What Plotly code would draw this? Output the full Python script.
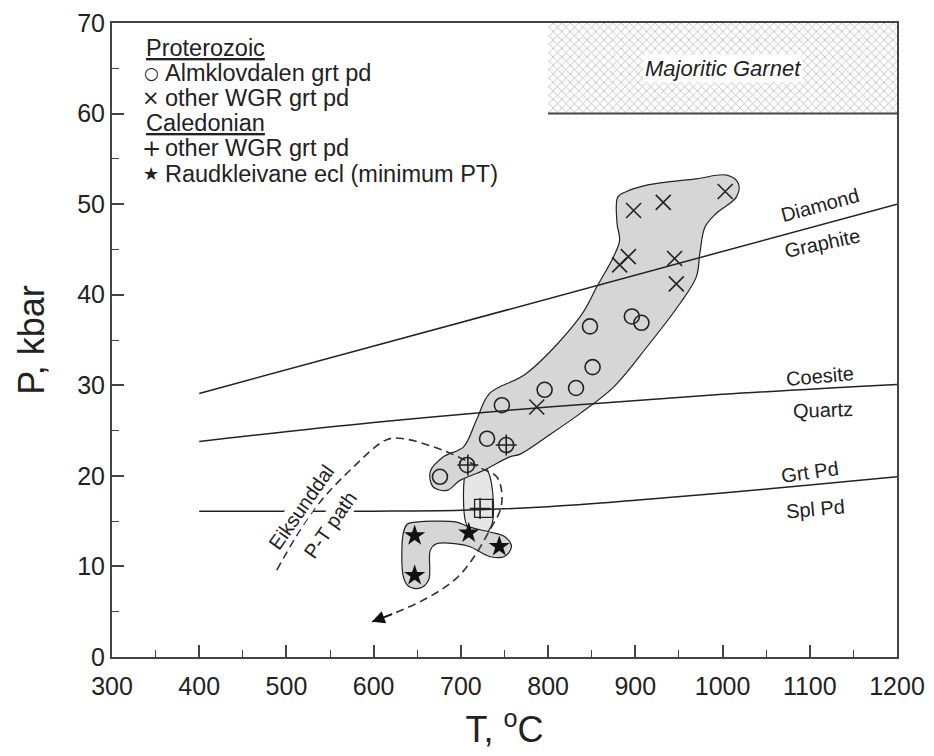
import plotly.graph_objects as go

# ---------------- data (T in deg C, P in kbar) ----------------
alm_T = [848, 896, 907, 851, 832, 796, 747, 730, 752, 676, 707]
alm_P = [36.5, 37.6, 36.9, 32.0, 29.7, 29.5, 27.8, 24.1, 23.4, 19.9, 21.2]

wgr_prot_T = [1003, 932, 898, 892, 882, 945, 947, 787]
wgr_prot_P = [51.4, 50.2, 49.3, 44.2, 43.3, 44.0, 41.2, 27.6]

wgr_cal_T = [708, 722, 752]
wgr_cal_P = [21.2, 16.4, 23.4]

box_T = [726]
box_P = [16.4]

raud_T = [647, 647, 709, 744]
raud_P = [13.4, 9.0, 13.7, 12.2]

# phase boundaries
dia_T = [400, 1200]
dia_P = [29.1, 50.0]
coe_T = [400, 600, 800, 1000, 1200]
coe_P = [23.8, 25.9, 27.6, 29.0, 30.1]
grt_T = [400, 600, 700, 800, 900, 1000, 1100, 1200]
grt_P = [16.1, 16.1, 16.2, 16.6, 17.3, 18.1, 19.0, 19.9]

# majoritic garnet field
maj_T = [800, 1200]
maj_P = [60, 70]

# envelopes
env_main_T = [880, 890, 913, 970, 1005, 1018, 1016, 993, 980, 974, 970, 951, 913, 875, 837, 798,
              768, 756, 726, 699, 684, 668, 665, 680, 703, 718, 733, 775, 837, 856, 875, 882, 879]
env_main_P = [50.8, 51.4, 52.1, 52.8, 53.2, 52.3, 50.8, 49.0, 47.5, 44.6, 42.0, 39.0, 34.2, 29.8,
              26.9, 24.3, 22.4, 22.1, 20.6, 19.5, 18.4, 18.8, 20.5, 22.1, 23.2, 26.2, 29.1, 31.3,
              37.6, 40.9, 44.2, 46.0, 47.9]
env_cal_T = [718, 731, 737, 735, 722, 707, 703, 706]
env_cal_P = [21.8, 20.5, 17.5, 14.5, 13.2, 14.5, 17.5, 20.5]
env_ecl_T = [642, 695, 708, 733, 750, 758, 750, 733, 710, 695, 672, 665, 663, 653, 640, 634, 634, 638]
env_ecl_P = [14.8, 14.9, 14.4, 13.8, 13.3, 12.2, 11.1, 11.1, 12.2, 12.5, 12.5, 11.8, 8.5, 7.6, 7.8,
             8.9, 13.7, 14.6]

# Eiksunddal P-T path
path_T = [489, 531, 577, 615, 634, 680, 722, 741, 747, 745, 733, 714, 695, 665, 623, 598]
path_P = [9.6, 16.2, 21.0, 24.0, 24.1, 22.8, 20.9, 19.9, 18.1, 16.2, 14.0, 10.9, 8.7, 6.7, 4.8, 3.9]

x_ticks = [300, 400, 500, 600, 700, 800, 900, 1000, 1100, 1200]
y_ticks = [0, 10, 20, 30, 40, 50, 60, 70]

legend_rows = [
    ("<u>Proterozoic</u>", ""),
    ("Almklovdalen grt pd", "○"),
    ("other WGR grt pd", "×"),
    ("<u>Caledonian</u>", ""),
    ("other WGR grt pd", "+"),
    ("Raudkleivane ecl (minimum PT)", "★"),
]

FONT = "Liberation Sans, Arial, sans-serif"
INK = "#222222"

# figure / plot-area geometry in pixels (page body has an 8 px margin)
W, H = 926, 748
L, R, T, B = 104, 37, 15, 99
PW, PH = W - L - R, H - T - B


def px_to_paper(px, py):
    # px, py measured in the 934x756 window
    return (px - 8 - L) / PW, (H - B - (py - 8)) / PH


fig = go.Figure()

# majoritic garnet hatched field
fig.add_trace(go.Scatter(
    x=[maj_T[0], maj_T[1], maj_T[1], maj_T[0], maj_T[0]],
    y=[maj_P[0], maj_P[0], maj_P[1], maj_P[1], maj_P[0]],
    mode="lines", fill="toself", line=dict(width=0), fillcolor="white",
    fillpattern=dict(shape="x", size=6, solidity=0.25, fgcolor="#777777", bgcolor="white"),
    showlegend=False, hoverinfo="skip"))
fig.add_trace(go.Scatter(x=maj_T, y=[maj_P[0], maj_P[0]], mode="lines",
                         line=dict(color="#444444", width=2), showlegend=False, hoverinfo="skip"))

# envelopes
fig.add_trace(go.Scatter(x=env_cal_T + env_cal_T[:1], y=env_cal_P + env_cal_P[:1], mode="lines",
                         fill="toself", fillcolor="#e6e6e6", line=dict(color=INK, width=1.2, shape="spline"),
                         showlegend=False, hoverinfo="skip"))
fig.add_trace(go.Scatter(x=env_main_T + env_main_T[:1], y=env_main_P + env_main_P[:1], mode="lines",
                         fill="toself", fillcolor="#d6d6d6", line=dict(color=INK, width=1.2, shape="spline"),
                         showlegend=False, hoverinfo="skip"))
fig.add_trace(go.Scatter(x=env_ecl_T + env_ecl_T[:1], y=env_ecl_P + env_ecl_P[:1], mode="lines",
                         fill="toself", fillcolor="#d6d6d6", line=dict(color=INK, width=1.2, shape="spline"),
                         showlegend=False, hoverinfo="skip"))

# phase boundaries
for tx, py in [(dia_T, dia_P), (coe_T, coe_P), (grt_T, grt_P)]:
    fig.add_trace(go.Scatter(x=tx, y=py, mode="lines", line=dict(color=INK, width=1.5, shape="spline"),
                             showlegend=False, hoverinfo="skip"))

# P-T path
fig.add_trace(go.Scatter(x=path_T, y=path_P, mode="lines",
                         line=dict(color="#333333", width=1.6, dash="8px,5px", shape="spline"),
                         showlegend=False, hoverinfo="skip"))

# data points
fig.add_trace(go.Scatter(x=alm_T, y=alm_P, mode="markers", name="Almklovdalen grt pd",
                         marker=dict(symbol="circle-open", size=15, color=INK, line=dict(width=1.6))))
fig.add_trace(go.Scatter(x=wgr_prot_T, y=wgr_prot_P, mode="markers", name="other WGR grt pd (Proterozoic)",
                         marker=dict(symbol="x-thin-open", size=15, color=INK, line=dict(width=1.6, color=INK))))
fig.add_trace(go.Scatter(x=wgr_cal_T, y=wgr_cal_P, mode="markers", name="other WGR grt pd (Caledonian)",
                         marker=dict(symbol="cross-thin-open", size=15, color=INK, line=dict(width=1.6, color=INK))))
fig.add_trace(go.Scatter(x=raud_T, y=raud_P, mode="markers", name="Raudkleivane ecl (minimum PT)",
                         marker=dict(symbol="star", size=16, color="#111111", line=dict(width=0))))
fig.add_trace(go.Scatter(x=box_T, y=box_P, mode="markers", name="",
                         marker=dict(symbol="square-open", size=18, color=INK, line=dict(width=1.3))))

annots = []
# arrow head at end of path
annots.append(dict(x=path_T[-1], y=path_P[-1], ax=path_T[-2], ay=path_P[-2], xref="x", yref="y",
                   axref="x", ayref="y", showarrow=True, arrowhead=2, arrowsize=1.6, arrowwidth=1.6,
                   arrowcolor="#111111", text=""))
lab = dict(font=dict(family=FONT, size=20, color=INK), showarrow=False, xref="x", yref="y")
annots += [
    dict(x=1112, y=49.9, text="Diamond", textangle=-15, **lab),
    dict(x=1115, y=45.7, text="Graphite", textangle=-12, **lab),
    dict(x=1112, y=31.0, text="Coesite", textangle=-5, **lab),
    dict(x=1115, y=27.3, text="Quartz", textangle=-2, **lab),
    dict(x=1100, y=20.4, text="Grt Pd", textangle=-8, **lab),
    dict(x=1106, y=16.3, text="Spl Pd", textangle=-5, **lab),
    dict(x=1000, y=65, text="<i>Majoritic Garnet</i>", font=dict(family=FONT, size=22, color=INK),
         showarrow=False, xref="x", yref="y", bgcolor="white"),
    dict(x=517, y=16.6, text="Eiksunddal", textangle=-55, bgcolor="white", borderpad=0, **lab),
    dict(x=550, y=14.6, text="P-T path", textangle=-55, bgcolor="white", borderpad=0, **lab),
]

# legend drawn as text rows
row_y = [48, 73, 98, 123, 148, 174]
sym_size = {"○": 17, "×": 21, "+": 23, "★": 18}
for (txt, sym), py in zip(legend_rows, row_y):
    if sym:
        sx, sy = px_to_paper(151, py)
        annots.append(dict(x=sx, y=sy, xref="paper", yref="paper", text=sym, showarrow=False,
                           xanchor="center", yanchor="middle",
                           font=dict(family="DejaVu Sans, " + FONT, size=sym_size[sym], color=INK)))
        tx0 = 163
    else:
        tx0 = 144
    tx, ty = px_to_paper(tx0, py)
    annots.append(dict(x=tx, y=ty, xref="paper", yref="paper", text=txt, showarrow=False,
                       xanchor="left", yanchor="middle",
                       font=dict(family=FONT, size=23.5, color=INK)))

fig.update_layout(
    width=W, height=H,
    margin=dict(l=L, r=R, t=T, b=B),
    paper_bgcolor="white", plot_bgcolor="white",
    font=dict(family=FONT, color=INK),
    showlegend=False,
    annotations=annots,
    xaxis=dict(range=[300, 1200], tickvals=x_ticks, ticks="inside", ticklen=12, tickwidth=1.5,
               tickcolor="#444", showline=True, linecolor="#444", linewidth=2, mirror=True,
               showgrid=False, zeroline=False, automargin=False, ticklabelstandoff=6,
               minor=dict(dtick=50, ticks="inside", ticklen=7, tickwidth=1.2, tickcolor="#444"),
               tickfont=dict(family=FONT, size=25, color=INK),
               title=dict(text="T, <sup>o</sup>C", font=dict(family=FONT, size=36, color=INK), standoff=18)),
    yaxis=dict(range=[0, 70], tickvals=y_ticks, ticks="inside", ticklen=12, tickwidth=1.5,
               tickcolor="#444", showline=True, linecolor="#444", linewidth=2, mirror=True,
               showgrid=False, zeroline=False, automargin=False,
               minor=dict(dtick=5, ticks="inside", ticklen=7, tickwidth=1.2, tickcolor="#444"),
               tickfont=dict(family=FONT, size=25, color=INK),
               title=dict(text="P, kbar", font=dict(family=FONT, size=36, color=INK), standoff=22)),
)

fig.write_html("out.html")
